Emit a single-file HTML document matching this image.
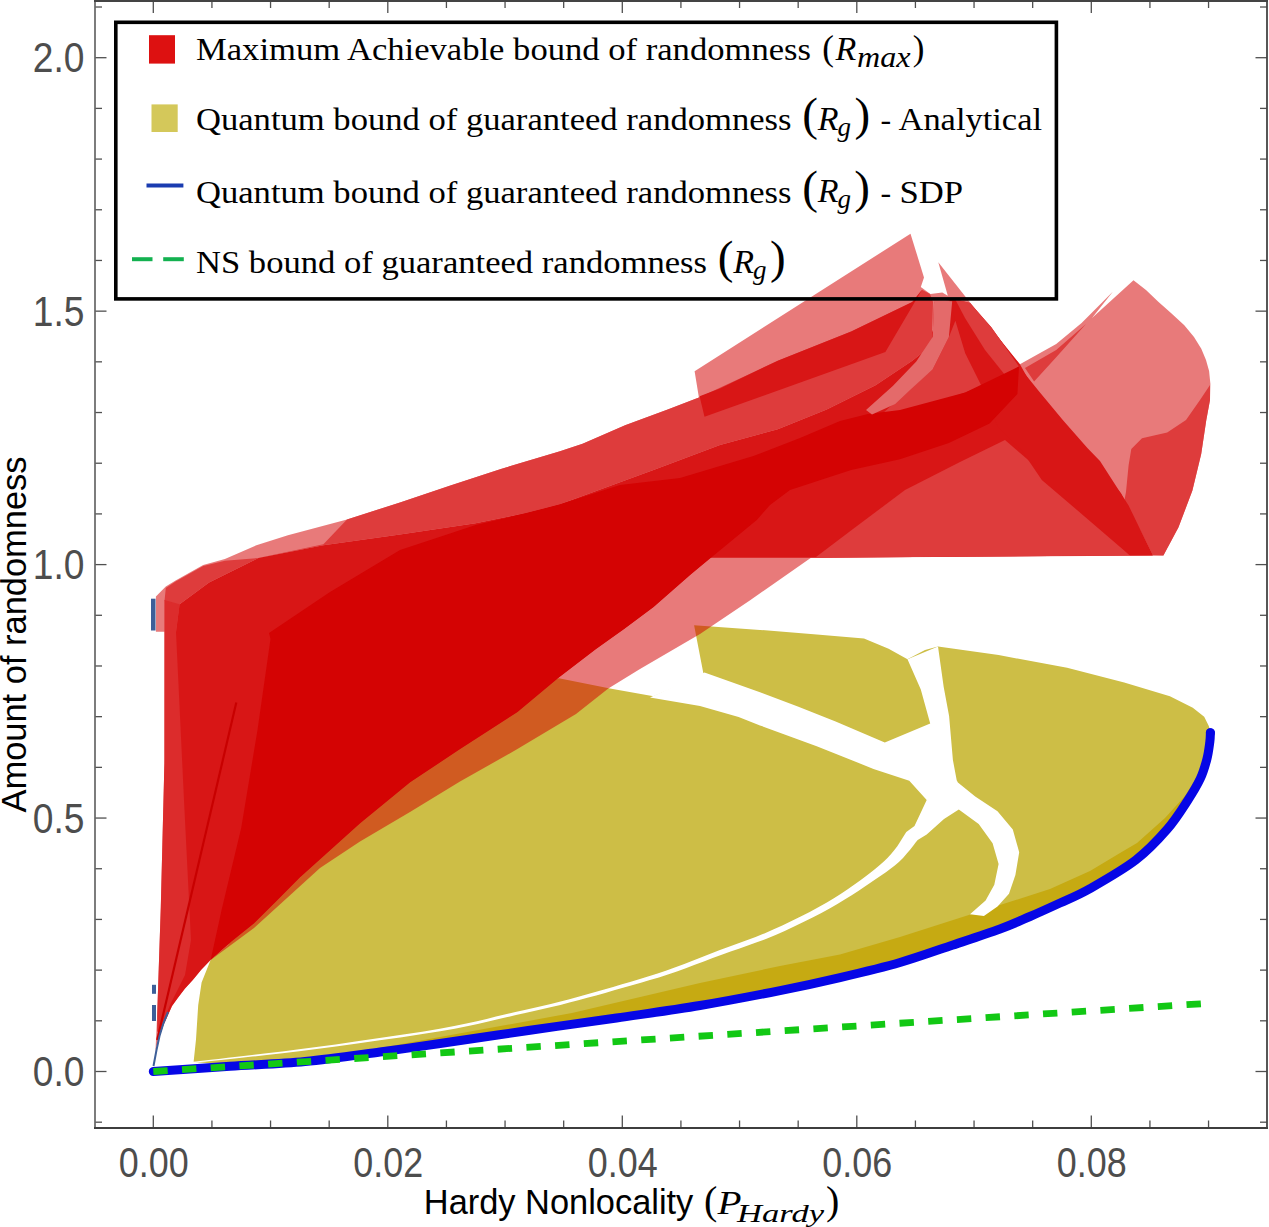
<!DOCTYPE html>
<html><head><meta charset="utf-8"><style>
html,body{margin:0;padding:0;background:#fff;width:1269px;height:1227px;overflow:hidden}
svg{display:block}
.tl{font-family:"Liberation Sans",sans-serif;font-size:42px;fill:#4d4d4d}
.at{font-family:"Liberation Sans",sans-serif;font-size:34.5px;fill:#000}
.lg{font-family:"Liberation Serif",serif;font-size:32px;fill:#000}
.m{font-family:"Liberation Serif",serif;font-style:italic}
.mi{font-family:"Liberation Serif",serif}
.sub{font-size:0.72em}
.pr3{font-family:"Liberation Serif",serif;font-size:40px}
.mP{font-family:"Liberation Serif",serif;font-style:italic;font-size:33px}
.mS2{font-family:"Liberation Serif",serif;font-style:italic;font-size:26px}
.pr1{font-family:"Liberation Serif",serif;font-size:35px}
.pr2{font-family:"Liberation Serif",serif;font-size:47px}
.mR{font-family:"Liberation Serif",serif;font-style:italic;font-size:34px}
.mG{font-family:"Liberation Serif",serif;font-style:italic;font-size:27px}
.mS{font-family:"Liberation Serif",serif;font-style:italic;font-size:29px}
</style></head><body>
<svg width="1269" height="1227" viewBox="0 0 1269 1227">
<rect width="1269" height="1227" fill="#fff"/>
<polygon points="230.0,1064.8 305.0,1060.0 380.0,1050.5 440.0,1042.0 528.3,1029.0 616.5,1016.5 700.0,1004.0 780.0,989.1 840.0,976.1 900.0,961.0 950.0,944.5 1000.0,927.5 1030.0,915.0 1060.0,901.5 1090.0,887.1 1135.8,858.5 1167.2,827.8 1188.0,798.5 1200.3,777.2 1206.9,757.6 1209.8,740.7 1210.4,731.2 1208.8,726.0 1204.2,716.8 1192.8,707.7 1169.9,696.3 1124.2,682.6 1067.1,667.7 998.6,655.1 938.0,646.5 925.0,650.0 907.5,659.2 888.6,648.8 864.0,638.4 816.7,634.6 760.0,629.9 694.1,625.2 703.6,674.4 653.5,696.2 610.0,688.6 558.9,678.2 520.0,690.0 449.0,740.0 360.0,800.0 300.0,850.0 254.0,900.0 228.0,945.0 210.7,959.7 201.6,982.5 198.2,1005.3 196.0,1039.6 193.6,1062.0" fill="#cdbe46" />
<polygon points="380.0,1048.0 440.0,1037.0 572.0,1013.0 700.0,983.0 780.0,966.0 840.0,954.4 900.0,937.0 950.0,921.0 1000.0,905.0 1050.0,889.0 1090.0,871.0 1120.0,853.0 1137.0,843.0 1165.0,818.0 1185.0,796.0 1198.0,775.0 1205.0,760.0 1206.9,759.1 1200.3,778.7 1188.0,800.0 1167.2,829.3 1135.8,860.0 1090.0,888.6 1060.0,903.0 1030.0,916.5 1000.0,929.0 950.0,946.0 900.0,962.5 840.0,977.6 780.0,990.6 700.0,1005.5 616.5,1018.0 528.3,1030.5 440.0,1043.5 380.0,1052.0" fill="#c6aa12" />
<polygon points="907.5,659.2 920.8,689.4 930.2,723.5 884.8,742.4 835.6,721.6 797.8,706.5 760.0,692.3 704.5,672.5 650.0,697.5 700.0,706.0 738.6,717.0 760.0,725.4 816.7,746.2 873.5,768.9 909.3,780.8 926.7,799.9 914.5,825.9 906.3,831.9 904.7,834.5 902.5,837.9 900.0,841.9 897.3,846.2 894.2,850.3 891.1,854.1 887.7,857.7 884.1,861.2 880.1,864.8 875.7,868.5 871.0,872.3 865.8,876.2 860.1,880.4 854.1,884.8 847.7,889.2 841.0,893.7 833.9,898.3 826.4,902.7 818.3,907.3 809.7,911.9 800.7,916.6 791.5,921.1 782.3,925.5 773.2,929.6 764.4,933.4 755.6,936.9 746.7,940.2 737.8,943.5 728.9,946.7 719.9,950.1 711.0,953.5 702.1,957.0 693.2,960.6 684.3,964.0 675.4,967.3 666.5,970.5 657.6,973.5 648.8,976.3 639.9,979.0 630.9,981.7 622.0,984.3 613.1,986.9 604.2,989.5 595.3,992.0 586.4,994.5 577.5,997.0 568.5,999.4 559.6,1001.7 550.8,1003.9 542.1,1006.0 533.4,1008.0 524.6,1010.1 515.4,1012.1 505.7,1014.3 496.0,1016.6 486.7,1018.9 477.0,1021.2 466.4,1023.6 454.2,1026.1 439.8,1028.8 422.2,1031.7 401.6,1034.8 379.5,1038.1 357.1,1041.3 335.6,1044.4 316.4,1047.0 299.0,1049.3 282.3,1051.4 266.6,1053.3 252.1,1054.9 239.2,1056.4 227.9,1057.8 218.6,1058.9 211.0,1059.8 204.9,1060.5 200.0,1061.0 196.1,1061.4 192.9,1061.8 193.1,1062.8 196.2,1062.5 200.2,1062.1 205.0,1061.7 211.1,1061.1 218.7,1060.3 228.1,1059.2 239.3,1058.0 252.3,1056.6 266.8,1055.0 282.5,1053.2 299.2,1051.2 316.6,1049.0 335.9,1046.4 357.4,1043.5 379.8,1040.3 402.0,1037.2 422.5,1034.1 440.2,1031.2 454.7,1028.7 467.0,1026.2 477.7,1023.9 487.3,1021.7 496.7,1019.4 506.3,1017.3 516.0,1015.1 525.2,1013.1 534.1,1011.1 542.8,1009.1 551.5,1007.1 560.4,1004.9 569.4,1002.6 578.3,1000.3 587.3,997.8 596.2,995.4 605.2,992.9 614.1,990.3 623.0,987.8 632.0,985.3 640.9,982.7 649.9,980.1 658.9,977.4 667.9,974.5 676.9,971.4 685.8,968.2 694.8,964.8 703.8,961.5 712.7,958.1 721.7,954.7 730.6,951.5 739.6,948.4 748.5,945.3 757.5,942.1 766.5,938.7 775.6,935.0 784.7,930.9 794.1,926.6 803.4,922.1 812.6,917.5 821.4,912.9 829.6,908.5 837.4,904.1 844.7,899.6 851.7,895.2 858.3,890.9 864.5,886.7 870.4,882.8 875.9,879.1 881.1,875.6 885.9,872.2 890.5,868.8 894.8,865.4 898.9,861.9 903.0,857.9 906.8,853.6 910.3,849.4 913.4,845.5 915.8,842.3 917.7,840.1 926.7,834.5 944.0,819.0 958.8,809.4 978.7,824.1 992.6,843.2 998.6,864.0 994.3,884.8 985.6,900.4 970.0,914.3 983.9,916.0 997.5,906.6 1009.0,893.8 1015.4,875.0 1019.2,852.2 1012.8,829.4 997.5,811.2 975.2,796.4 957.9,782.5 956.7,780.2 952.9,760.0 949.1,715.9 943.7,687.1 938.0,646.5" fill="#ffffff" />
<polygon points="694.6,371.3 910.5,233.7 924.0,277.4 920.8,287.0 930.4,294.1 942.3,292.5 947.8,295.7 938.3,262.3 965.3,296.5 997.1,336.2 1019.9,364.3 1056.2,344.0 1081.6,323.0 1113.0,291.6 1092.0,318.0 1133.5,280.2 1146.0,290.0 1158.3,301.7 1171.0,313.0 1184.3,325.2 1194.0,337.0 1201.3,348.7 1206.0,360.0 1209.1,370.9 1210.4,383.9 1210.0,400.0 1206.3,420.0 1201.2,454.0 1192.4,490.6 1178.5,527.2 1163.4,555.6 811.0,557.8 750.5,600.0 700.0,634.0 640.0,669.0 608.3,688.5 576.0,713.9 517.4,749.1 460.0,781.5 410.0,812.0 360.0,841.6 320.0,868.0 254.0,928.0 210.7,960.0 201.0,970.0 192.8,980.0 185.0,988.5 178.5,997.0 172.0,1006.0 167.1,1017.0 163.5,1025.0 161.4,1031.3 158.0,1041.0 155.7,1049.8 155.0,1060.0 157.2,1014.8 160.8,907.2 164.4,763.6 164.6,631.8 155.9,631.8 155.9,596.4 165.8,586.5 175.6,580.6 203.2,564.9 224.9,559.0 256.4,545.2 287.9,535.3 347.0,519.6 400.0,502.4 450.4,485.4 500.9,469.0 560.0,451.3 582.6,443.7 625.1,425.2 667.7,409.6 698.9,397.6" fill="#d30000" fill-opacity="0.52" />
<polygon points="179.6,604.3 209.1,582.6 258.4,558.0 323.4,545.2 400.0,534.6 475.7,523.2 526.1,513.1 560.0,504.3 653.5,470.0 720.0,445.1 777.8,429.2 826.7,409.6 875.6,385.2 912.3,360.7 924.5,350.9 933.0,330.0 934.0,302.0 955.0,300.0 990.0,327.0 1019.9,364.3 1033.0,387.5 1077.0,440.3 1121.0,493.2 1152.8,555.3 812.0,557.8 710.2,557.8 690.0,575.0 653.5,607.0 624.0,629.0 595.6,649.3 558.4,677.7 517.4,711.9 460.0,749.1 410.0,782.2 360.0,823.3 320.0,859.3 299.7,877.6 276.9,900.4 254.0,923.2 231.3,941.5 210.7,959.7 201.0,970.0 192.8,980.0 185.0,988.5 178.5,997.0 172.0,1006.0 167.1,1017.0 163.5,1025.0 161.4,1031.3 158.0,1041.0 158.0,1035.0 162.0,900.0 165.0,760.0 165.0,640.0 170.0,606.0" fill="#d81616" />
<polygon points="164.6,600.0 165.8,588.0 175.6,581.5 203.2,566.0 224.9,560.8 258.4,558.0 323.4,544.2 347.0,519.6 400.0,502.4 450.4,485.4 500.9,469.0 560.0,451.3 582.6,443.7 625.1,425.2 667.7,409.6 698.9,397.6 777.8,360.7 851.2,331.4 912.3,302.0 922.0,289.8 930.0,294.0 933.0,302.0 931.9,341.1 924.5,350.9 912.3,360.7 875.6,385.2 826.7,409.6 777.8,429.2 720.0,445.1 653.5,470.0 560.0,504.3 526.1,513.1 475.7,523.2 400.0,534.6 323.4,545.2 258.4,558.0 209.1,582.6 179.6,604.3 175.0,640.0" fill="#de3c3c" />
<polygon points="164.4,600.0 179.6,604.3 176.0,632.0 184.0,800.0 191.0,940.0 185.0,975.0 170.0,1005.0 160.0,1030.0 157.2,1032.0 157.2,1014.8 160.8,907.2 164.4,763.6" fill="#dc2c2c" />
<polygon points="699.6,396.2 720.0,388.4 777.8,360.7 851.2,331.4 912.3,302.0 922.0,289.8 885.4,352.1 704.5,416.7" fill="#d81616" />
<polygon points="815.0,557.8 850.0,531.3 905.0,490.0 960.0,462.0 1005.0,440.0 1077.0,502.0 1130.0,555.5" fill="#de3c3c" />
<polygon points="1123.0,508.0 1126.0,492.0 1128.6,465.2 1131.3,449.0 1142.0,438.3 1167.2,432.6 1186.0,420.0 1200.0,400.0 1210.0,385.0 1210.0,400.0 1206.3,420.0 1201.2,454.0 1192.4,490.6 1178.5,527.2 1163.4,555.6 1152.8,555.3 1140.0,530.0" fill="#de3c3c" />
<polygon points="949.0,298.0 955.4,320.7 965.2,353.3 981.5,386.0 997.8,426.7 1022.2,451.1 1041.8,480.0 1077.0,510.0 1130.0,555.5 1152.8,555.5 1128.6,505.5 1100.0,461.0 1087.4,447.9 1063.0,420.2 1038.5,390.8 1019.0,366.4 991.3,327.3 970.0,303.0" fill="#d81616" />
<polygon points="955.0,299.0 970.0,303.0 991.3,327.3 1019.0,366.4 1005.0,375.0 985.0,350.0 965.0,318.0" fill="#de3c3c" />
<polygon points="900.0,397.4 932.6,369.6 948.9,337.0 955.4,320.7 965.2,353.3 981.5,386.0 965.2,392.5 900.0,415.3 870.0,425.0" fill="#de3c3c" />
<polygon points="1025.0,368.0 1056.2,350.0 1086.0,324.1 1056.2,357.2 1034.1,381.5" fill="#de3c3c" />
<polygon points="269.0,633.0 330.0,592.0 400.0,550.0 475.7,525.0 526.1,513.1 560.0,504.3 620.0,485.0 680.0,478.0 753.4,456.0 800.0,438.0 840.0,421.0 868.0,414.0 900.0,410.0 965.2,392.5 1019.0,366.4 1017.4,394.1 989.6,423.4 948.9,443.0 900.0,459.3 851.2,470.0 790.0,490.0 770.0,505.0 756.8,520.0 690.0,575.0 653.5,607.0 624.0,629.0 595.6,649.3 558.4,677.7 517.4,711.9 460.0,749.1 410.0,782.2 360.0,823.3 320.0,859.3 299.7,877.6 276.9,900.4 254.0,923.2 231.3,941.5 210.7,959.7 221.7,909.4 241.2,828.0 257.5,730.0 270.5,639.0" fill="#d40303" />
<polygon points="934.2,300.0 952.2,301.2 948.9,337.0 932.6,369.6 910.0,390.0 895.2,404.0 872.0,414.5 866.0,410.0 892.8,386.0 916.3,361.5 932.6,337.0" fill="#e46a6a" />
<line x1="236.3" y1="702.6" x2="157.2" y2="1040" stroke="#c80000" stroke-width="2.2"/>
<rect x="151" y="598.7" width="4.5" height="31.8" fill="#3d5f99"/>
<rect x="152" y="984.8" width="4" height="9" fill="#3d5f99"/>
<rect x="152" y="1005" width="4" height="16" fill="#3d5f99"/>
<polyline points="153.5,1066 156.5,1050 159.5,1036 163.5,1023 168,1012" fill="none" stroke="#3d5f99" stroke-width="2"/>
<path d="M153.3,1071.5 C166.1,1070.6 204.7,1068.0 230.0,1066.3 C255.3,1064.6 280.0,1063.9 305.0,1061.5 C330.0,1059.1 357.5,1055.0 380.0,1052.0 C402.5,1049.0 415.3,1047.1 440.0,1043.5 C464.7,1039.9 498.9,1034.8 528.3,1030.5 C557.7,1026.2 587.9,1022.2 616.5,1018.0 C645.1,1013.8 672.8,1010.1 700.0,1005.5 C727.2,1000.9 756.7,995.2 780.0,990.6 C803.3,986.0 820.0,982.3 840.0,977.6 C860.0,972.9 881.7,967.8 900.0,962.5 C918.3,957.2 933.3,951.6 950.0,946.0 C966.7,940.4 986.7,933.9 1000.0,929.0 C1013.3,924.1 1020.0,920.8 1030.0,916.5 C1040.0,912.2 1050.0,907.6 1060.0,903.0 C1070.0,898.4 1077.4,895.8 1090.0,888.6 C1102.6,881.4 1122.9,869.9 1135.8,860.0 C1148.7,850.1 1158.5,839.3 1167.2,829.3 C1175.9,819.3 1182.5,808.4 1188.0,800.0 C1193.5,791.6 1197.1,785.5 1200.3,778.7 C1203.5,771.9 1205.3,765.2 1206.9,759.1 C1208.5,753.0 1209.2,746.6 1209.8,742.2 C1210.4,737.8 1210.3,734.3 1210.4,732.7" fill="none" stroke="#0606e6" stroke-width="9" stroke-linecap="round" stroke-linejoin="round"/>
<circle cx="1210.4" cy="732.7" r="4.5" fill="#0606e6"/>
<line x1="153.3" y1="1071.5" x2="1202" y2="1003.7" stroke="#12c814" stroke-width="6.8" stroke-dasharray="14.4 14.36"/>
<line x1="95.0" y1="1122.19" x2="102.0" y2="1122.19" stroke="#505050" stroke-width="1.3"/><line x1="1267.0" y1="1122.19" x2="1260.0" y2="1122.19" stroke="#505050" stroke-width="1.3"/><line x1="95.0" y1="1071.50" x2="106.5" y2="1071.50" stroke="#505050" stroke-width="1.3"/><line x1="1267.0" y1="1071.50" x2="1255.5" y2="1071.50" stroke="#505050" stroke-width="1.3"/><line x1="95.0" y1="1020.81" x2="102.0" y2="1020.81" stroke="#505050" stroke-width="1.3"/><line x1="1267.0" y1="1020.81" x2="1260.0" y2="1020.81" stroke="#505050" stroke-width="1.3"/><line x1="95.0" y1="970.12" x2="102.0" y2="970.12" stroke="#505050" stroke-width="1.3"/><line x1="1267.0" y1="970.12" x2="1260.0" y2="970.12" stroke="#505050" stroke-width="1.3"/><line x1="95.0" y1="919.43" x2="102.0" y2="919.43" stroke="#505050" stroke-width="1.3"/><line x1="1267.0" y1="919.43" x2="1260.0" y2="919.43" stroke="#505050" stroke-width="1.3"/><line x1="95.0" y1="868.74" x2="102.0" y2="868.74" stroke="#505050" stroke-width="1.3"/><line x1="1267.0" y1="868.74" x2="1260.0" y2="868.74" stroke="#505050" stroke-width="1.3"/><line x1="95.0" y1="818.05" x2="106.5" y2="818.05" stroke="#505050" stroke-width="1.3"/><line x1="1267.0" y1="818.05" x2="1255.5" y2="818.05" stroke="#505050" stroke-width="1.3"/><line x1="95.0" y1="767.36" x2="102.0" y2="767.36" stroke="#505050" stroke-width="1.3"/><line x1="1267.0" y1="767.36" x2="1260.0" y2="767.36" stroke="#505050" stroke-width="1.3"/><line x1="95.0" y1="716.67" x2="102.0" y2="716.67" stroke="#505050" stroke-width="1.3"/><line x1="1267.0" y1="716.67" x2="1260.0" y2="716.67" stroke="#505050" stroke-width="1.3"/><line x1="95.0" y1="665.98" x2="102.0" y2="665.98" stroke="#505050" stroke-width="1.3"/><line x1="1267.0" y1="665.98" x2="1260.0" y2="665.98" stroke="#505050" stroke-width="1.3"/><line x1="95.0" y1="615.29" x2="102.0" y2="615.29" stroke="#505050" stroke-width="1.3"/><line x1="1267.0" y1="615.29" x2="1260.0" y2="615.29" stroke="#505050" stroke-width="1.3"/><line x1="95.0" y1="564.60" x2="106.5" y2="564.60" stroke="#505050" stroke-width="1.3"/><line x1="1267.0" y1="564.60" x2="1255.5" y2="564.60" stroke="#505050" stroke-width="1.3"/><line x1="95.0" y1="513.91" x2="102.0" y2="513.91" stroke="#505050" stroke-width="1.3"/><line x1="1267.0" y1="513.91" x2="1260.0" y2="513.91" stroke="#505050" stroke-width="1.3"/><line x1="95.0" y1="463.22" x2="102.0" y2="463.22" stroke="#505050" stroke-width="1.3"/><line x1="1267.0" y1="463.22" x2="1260.0" y2="463.22" stroke="#505050" stroke-width="1.3"/><line x1="95.0" y1="412.53" x2="102.0" y2="412.53" stroke="#505050" stroke-width="1.3"/><line x1="1267.0" y1="412.53" x2="1260.0" y2="412.53" stroke="#505050" stroke-width="1.3"/><line x1="95.0" y1="361.84" x2="102.0" y2="361.84" stroke="#505050" stroke-width="1.3"/><line x1="1267.0" y1="361.84" x2="1260.0" y2="361.84" stroke="#505050" stroke-width="1.3"/><line x1="95.0" y1="311.15" x2="106.5" y2="311.15" stroke="#505050" stroke-width="1.3"/><line x1="1267.0" y1="311.15" x2="1255.5" y2="311.15" stroke="#505050" stroke-width="1.3"/><line x1="95.0" y1="260.46" x2="102.0" y2="260.46" stroke="#505050" stroke-width="1.3"/><line x1="1267.0" y1="260.46" x2="1260.0" y2="260.46" stroke="#505050" stroke-width="1.3"/><line x1="95.0" y1="209.77" x2="102.0" y2="209.77" stroke="#505050" stroke-width="1.3"/><line x1="1267.0" y1="209.77" x2="1260.0" y2="209.77" stroke="#505050" stroke-width="1.3"/><line x1="95.0" y1="159.08" x2="102.0" y2="159.08" stroke="#505050" stroke-width="1.3"/><line x1="1267.0" y1="159.08" x2="1260.0" y2="159.08" stroke="#505050" stroke-width="1.3"/><line x1="95.0" y1="108.39" x2="102.0" y2="108.39" stroke="#505050" stroke-width="1.3"/><line x1="1267.0" y1="108.39" x2="1260.0" y2="108.39" stroke="#505050" stroke-width="1.3"/><line x1="95.0" y1="57.70" x2="106.5" y2="57.70" stroke="#505050" stroke-width="1.3"/><line x1="1267.0" y1="57.70" x2="1255.5" y2="57.70" stroke="#505050" stroke-width="1.3"/><line x1="95.0" y1="7.01" x2="102.0" y2="7.01" stroke="#505050" stroke-width="1.3"/><line x1="1267.0" y1="7.01" x2="1260.0" y2="7.01" stroke="#505050" stroke-width="1.3"/><line x1="153.30" y1="1127.5" x2="153.30" y2="1115.5" stroke="#505050" stroke-width="1.3"/><line x1="153.30" y1="1.0" x2="153.30" y2="13.0" stroke="#505050" stroke-width="1.3"/><line x1="211.93" y1="1127.5" x2="211.93" y2="1120.5" stroke="#505050" stroke-width="1.3"/><line x1="211.93" y1="1.0" x2="211.93" y2="8.0" stroke="#505050" stroke-width="1.3"/><line x1="270.55" y1="1127.5" x2="270.55" y2="1120.5" stroke="#505050" stroke-width="1.3"/><line x1="270.55" y1="1.0" x2="270.55" y2="8.0" stroke="#505050" stroke-width="1.3"/><line x1="329.18" y1="1127.5" x2="329.18" y2="1120.5" stroke="#505050" stroke-width="1.3"/><line x1="329.18" y1="1.0" x2="329.18" y2="8.0" stroke="#505050" stroke-width="1.3"/><line x1="387.80" y1="1127.5" x2="387.80" y2="1115.5" stroke="#505050" stroke-width="1.3"/><line x1="387.80" y1="1.0" x2="387.80" y2="13.0" stroke="#505050" stroke-width="1.3"/><line x1="446.43" y1="1127.5" x2="446.43" y2="1120.5" stroke="#505050" stroke-width="1.3"/><line x1="446.43" y1="1.0" x2="446.43" y2="8.0" stroke="#505050" stroke-width="1.3"/><line x1="505.05" y1="1127.5" x2="505.05" y2="1120.5" stroke="#505050" stroke-width="1.3"/><line x1="505.05" y1="1.0" x2="505.05" y2="8.0" stroke="#505050" stroke-width="1.3"/><line x1="563.68" y1="1127.5" x2="563.68" y2="1120.5" stroke="#505050" stroke-width="1.3"/><line x1="563.68" y1="1.0" x2="563.68" y2="8.0" stroke="#505050" stroke-width="1.3"/><line x1="622.30" y1="1127.5" x2="622.30" y2="1115.5" stroke="#505050" stroke-width="1.3"/><line x1="622.30" y1="1.0" x2="622.30" y2="13.0" stroke="#505050" stroke-width="1.3"/><line x1="680.92" y1="1127.5" x2="680.92" y2="1120.5" stroke="#505050" stroke-width="1.3"/><line x1="680.92" y1="1.0" x2="680.92" y2="8.0" stroke="#505050" stroke-width="1.3"/><line x1="739.55" y1="1127.5" x2="739.55" y2="1120.5" stroke="#505050" stroke-width="1.3"/><line x1="739.55" y1="1.0" x2="739.55" y2="8.0" stroke="#505050" stroke-width="1.3"/><line x1="798.17" y1="1127.5" x2="798.17" y2="1120.5" stroke="#505050" stroke-width="1.3"/><line x1="798.17" y1="1.0" x2="798.17" y2="8.0" stroke="#505050" stroke-width="1.3"/><line x1="856.80" y1="1127.5" x2="856.80" y2="1115.5" stroke="#505050" stroke-width="1.3"/><line x1="856.80" y1="1.0" x2="856.80" y2="13.0" stroke="#505050" stroke-width="1.3"/><line x1="915.42" y1="1127.5" x2="915.42" y2="1120.5" stroke="#505050" stroke-width="1.3"/><line x1="915.42" y1="1.0" x2="915.42" y2="8.0" stroke="#505050" stroke-width="1.3"/><line x1="974.05" y1="1127.5" x2="974.05" y2="1120.5" stroke="#505050" stroke-width="1.3"/><line x1="974.05" y1="1.0" x2="974.05" y2="8.0" stroke="#505050" stroke-width="1.3"/><line x1="1032.67" y1="1127.5" x2="1032.67" y2="1120.5" stroke="#505050" stroke-width="1.3"/><line x1="1032.67" y1="1.0" x2="1032.67" y2="8.0" stroke="#505050" stroke-width="1.3"/><line x1="1091.30" y1="1127.5" x2="1091.30" y2="1115.5" stroke="#505050" stroke-width="1.3"/><line x1="1091.30" y1="1.0" x2="1091.30" y2="13.0" stroke="#505050" stroke-width="1.3"/><line x1="1149.93" y1="1127.5" x2="1149.93" y2="1120.5" stroke="#505050" stroke-width="1.3"/><line x1="1149.93" y1="1.0" x2="1149.93" y2="8.0" stroke="#505050" stroke-width="1.3"/><line x1="1208.55" y1="1127.5" x2="1208.55" y2="1120.5" stroke="#505050" stroke-width="1.3"/><line x1="1208.55" y1="1.0" x2="1208.55" y2="8.0" stroke="#505050" stroke-width="1.3"/><line x1="95.0" y1="0.0" x2="95.0" y2="1128.5" stroke="#666" stroke-width="1.7"/><line x1="94.0" y1="1127.9" x2="1268.0" y2="1127.9" stroke="#3e3e3e" stroke-width="2"/><line x1="94.0" y1="1.1" x2="1268.0" y2="1.1" stroke="#444" stroke-width="2"/><line x1="1267.0" y1="0.0" x2="1267.0" y2="1128.5" stroke="#444" stroke-width="1.8"/>
<rect x="115.8" y="22.3" width="940.6" height="276.6" fill="none" stroke="#000" stroke-width="3.6"/><rect x="149" y="35.2" width="26" height="28.4" fill="#dd1111"/><rect x="151.5" y="104.4" width="26.2" height="27.6" fill="#d4c85a"/><line x1="146.5" y1="185.5" x2="183.4" y2="185.5" stroke="#1a3cb0" stroke-width="4"/><line x1="132" y1="259.2" x2="152.5" y2="259.2" stroke="#13b150" stroke-width="4"/><line x1="163.2" y1="259.2" x2="183.8" y2="259.2" stroke="#13b150" stroke-width="4"/><text x="196" y="60.4" class="lg" textLength="615" lengthAdjust="spacingAndGlyphs" >Maximum Achievable bound of randomness</text><text x="822.3" y="59.6" class="pr1" >(</text><text x="835.5" y="59.8" class="mR" >R</text><text x="857" y="66.8" class="mS" textLength="53.5" lengthAdjust="spacingAndGlyphs" >max</text><text x="912.8" y="59.6" class="pr1" >)</text><text x="196" y="130.2" class="lg" textLength="595.5" lengthAdjust="spacingAndGlyphs" >Quantum bound of guaranteed randomness</text><text x="802.3" y="130.2" class="pr2" >(</text><text x="817.8" y="129.7" class="mR" >R</text><text x="837.5999999999999" y="135.7" class="mG" >g</text><text x="854.4" y="130.2" class="pr2" >)</text><text x="880.5" y="130.2" class="lg" >-</text><text x="898.5" y="130.2" class="lg" textLength="143.5" lengthAdjust="spacingAndGlyphs" >Analytical</text><text x="196" y="202.5" class="lg" textLength="595.5" lengthAdjust="spacingAndGlyphs" >Quantum bound of guaranteed randomness</text><text x="802.2" y="202.5" class="pr2" >(</text><text x="817.7" y="202.0" class="mR" >R</text><text x="837.5" y="208.0" class="mG" >g</text><text x="854.3000000000001" y="202.5" class="pr2" >)</text><text x="880.5" y="202.5" class="lg" >-</text><text x="899.5" y="202.5" class="lg" textLength="63.5" lengthAdjust="spacingAndGlyphs" >SDP</text><text x="196" y="273.4" class="lg" textLength="511" lengthAdjust="spacingAndGlyphs" >NS bound of guaranteed randomness</text><text x="717.8" y="273.4" class="pr2" >(</text><text x="733.3" y="272.9" class="mR" >R</text><text x="753.0999999999999" y="278.9" class="mG" >g</text><text x="769.9" y="273.4" class="pr2" >)</text>
<text transform="translate(84.5,1086.1) scale(0.885,1)" class="tl" text-anchor="end">0.0</text><text transform="translate(84.5,832.6) scale(0.885,1)" class="tl" text-anchor="end">0.5</text><text transform="translate(84.5,579.2) scale(0.885,1)" class="tl" text-anchor="end">1.0</text><text transform="translate(84.5,325.8) scale(0.885,1)" class="tl" text-anchor="end">1.5</text><text transform="translate(84.5,72.3) scale(0.885,1)" class="tl" text-anchor="end">2.0</text><text transform="translate(153.8,1177) scale(0.855,1)" class="tl" text-anchor="middle">0.00</text><text transform="translate(388.3,1177) scale(0.855,1)" class="tl" text-anchor="middle">0.02</text><text transform="translate(622.8,1177) scale(0.855,1)" class="tl" text-anchor="middle">0.04</text><text transform="translate(857.3,1177) scale(0.855,1)" class="tl" text-anchor="middle">0.06</text><text transform="translate(1091.8,1177) scale(0.855,1)" class="tl" text-anchor="middle">0.08</text><text x="423.8" y="1214" class="at" textLength="269.5" lengthAdjust="spacingAndGlyphs">Hardy Nonlocality</text><text x="704" y="1214" class="pr3">(</text><text x="717.5" y="1214" class="mP" textLength="24" lengthAdjust="spacingAndGlyphs">P</text><text x="737" y="1221.6" class="mS2" textLength="87" lengthAdjust="spacingAndGlyphs">Hardy</text><text x="826" y="1214" class="pr3">)</text><text transform="translate(25.8,812.5) rotate(-90)" class="at" textLength="356" lengthAdjust="spacingAndGlyphs">Amount of randomness</text>
</svg>
</body></html>
